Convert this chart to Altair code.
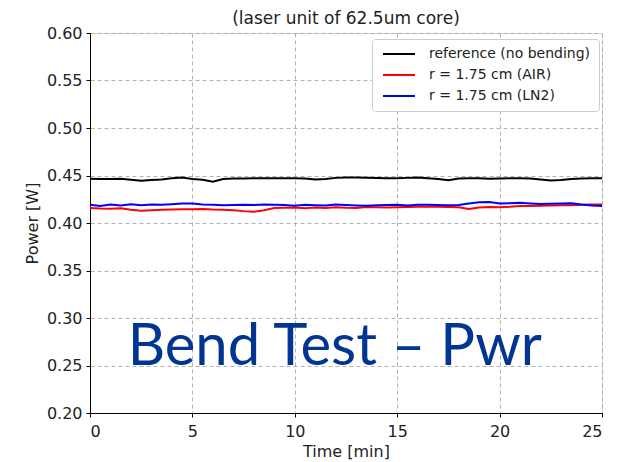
import altair as alt
import pandas as pd

times = [i * 0.5 for i in range(51)]

ref_vals = [0.4465, 0.4463, 0.4462, 0.4465, 0.4455, 0.4445, 0.4452, 0.4458, 0.4470, 0.4478,
            0.4462, 0.4455, 0.4435, 0.4462, 0.4468, 0.4468, 0.4470, 0.4472, 0.4472, 0.4470,
            0.4472, 0.4468, 0.4458, 0.4462, 0.4475, 0.4480, 0.4478, 0.4476, 0.4474, 0.4470,
            0.4472, 0.4475, 0.4478, 0.4470, 0.4462, 0.4450, 0.4468, 0.4472, 0.4470, 0.4466,
            0.4468, 0.4472, 0.4472, 0.4468, 0.4458, 0.4448, 0.4452, 0.4462, 0.4468, 0.4470,
            0.4470]

air_vals = [0.4158, 0.4152, 0.4150, 0.4155, 0.4140, 0.4128, 0.4135, 0.4140, 0.4142, 0.4145,
            0.4145, 0.4148, 0.4142, 0.4140, 0.4135, 0.4125, 0.4118, 0.4135, 0.4158, 0.4160,
            0.4162, 0.4155, 0.4162, 0.4158, 0.4165, 0.4160, 0.4158, 0.4168, 0.4165, 0.4162,
            0.4165, 0.4168, 0.4170, 0.4172, 0.4170, 0.4168, 0.4165, 0.4148, 0.4162, 0.4168,
            0.4165, 0.4170, 0.4178, 0.4180, 0.4182, 0.4185, 0.4188, 0.4188, 0.4192, 0.4195,
            0.4195]

ln2_vals = [0.4192, 0.4178, 0.4195, 0.4185, 0.4198, 0.4188, 0.4195, 0.4192, 0.4198, 0.4205,
            0.4205, 0.4195, 0.4192, 0.4188, 0.4190, 0.4192, 0.4190, 0.4195, 0.4192, 0.4190,
            0.4182, 0.4192, 0.4188, 0.4185, 0.4195, 0.4190, 0.4185, 0.4182, 0.4188, 0.4190,
            0.4192, 0.4185, 0.4192, 0.4192, 0.4190, 0.4188, 0.4190, 0.4205, 0.4218, 0.4222,
            0.4205, 0.4208, 0.4212, 0.4205, 0.4200, 0.4202, 0.4205, 0.4208, 0.4195, 0.4185,
            0.4178]

series_names = ["reference (no bending)", "r = 1.75 cm (AIR)", "r = 1.75 cm (LN2)"]
series_colors = ["#000000", "#ff0000", "#0000ff"]

x_ticks = [0, 5, 10, 15, 20, 25]
y_ticks = [0.20, 0.25, 0.30, 0.35, 0.40, 0.45, 0.50, 0.55, 0.60]

rows = []
for name, vals in zip(series_names, [ref_vals, air_vals, ln2_vals]):
    for t, v in zip(times, vals):
        rows.append({"t": t, "p": v, "series": name})
df = pd.DataFrame(rows)

note_df = pd.DataFrame({"t": [11.95], "p": [0.2505], "label": ["Bend Test \u2013 Pwr"]})

FONT = "DejaVu Sans"

x_enc = alt.X("t:Q", title="Time [min]",
              scale=alt.Scale(domain=[0, 25], nice=False, zero=False),
              axis=alt.Axis(values=x_ticks, format="d", grid=True, gridDash=[4, 3],
                            gridColor="#a0a0a0", gridWidth=0.8,
                            domainColor="#000000", tickColor="#000000", tickSize=4,
                            labelFontSize=16, titleFontSize=16, labelColor="#222",
                            titleColor="#222", labelPadding=6, titlePadding=4,
                            labelFont=FONT, titleFont=FONT, titleFontWeight="normal"))
y_enc = alt.Y("p:Q", title="Power [W]",
              scale=alt.Scale(domain=[0.2, 0.6], nice=False, zero=False),
              axis=alt.Axis(values=y_ticks, format=".2f", grid=True, gridDash=[4, 3],
                            gridColor="#a0a0a0", gridWidth=0.8,
                            domainColor="#000000", tickColor="#000000", tickSize=4,
                            labelFontSize=16, titleFontSize=16, labelColor="#222",
                            titleColor="#222", labelPadding=4, titlePadding=6,
                            labelFont=FONT, titleFont=FONT, titleFontWeight="normal"))

lines = alt.Chart(df).mark_line(strokeWidth=2).encode(
    x=x_enc,
    y=y_enc,
    color=alt.Color("series:N",
                    scale=alt.Scale(domain=series_names, range=series_colors),
                    legend=alt.Legend(title=None, orient="none", legendX=282, legendY=6,
                                      symbolType="M-1,0L7,0", symbolSize=64,
                                      symbolStrokeWidth=2, rowPadding=7,
                                      labelFontSize=14, labelFont=FONT, labelColor="#222",
                                      labelLimit=400,
                                      strokeColor="#cccccc", fillColor="white",
                                      cornerRadius=3, padding=8, labelOffset=35)),
    order=alt.Order("t:Q"),
)

note = alt.Chart(note_df).mark_text(
    font="Lato", fontSize=58, color="#003591", align="center", baseline="alphabetic"
).encode(x="t:Q", y="p:Q", text="label:N")

chart = alt.layer(lines, note).properties(
    width=512, height=380,
    title=alt.TitleParams("(laser unit of 62.5um core)", fontSize=17, font=FONT,
                          fontWeight="normal", color="#222", offset=-3),
    autosize=alt.AutoSizeParams(type="none"),
    padding={"left": 82, "top": 25, "right": 8, "bottom": 50},
).configure_view(stroke="#000000", strokeWidth=1).configure(background="white")

chart.save("out.html", embed_options={"renderer": "svg", "actions": False})
